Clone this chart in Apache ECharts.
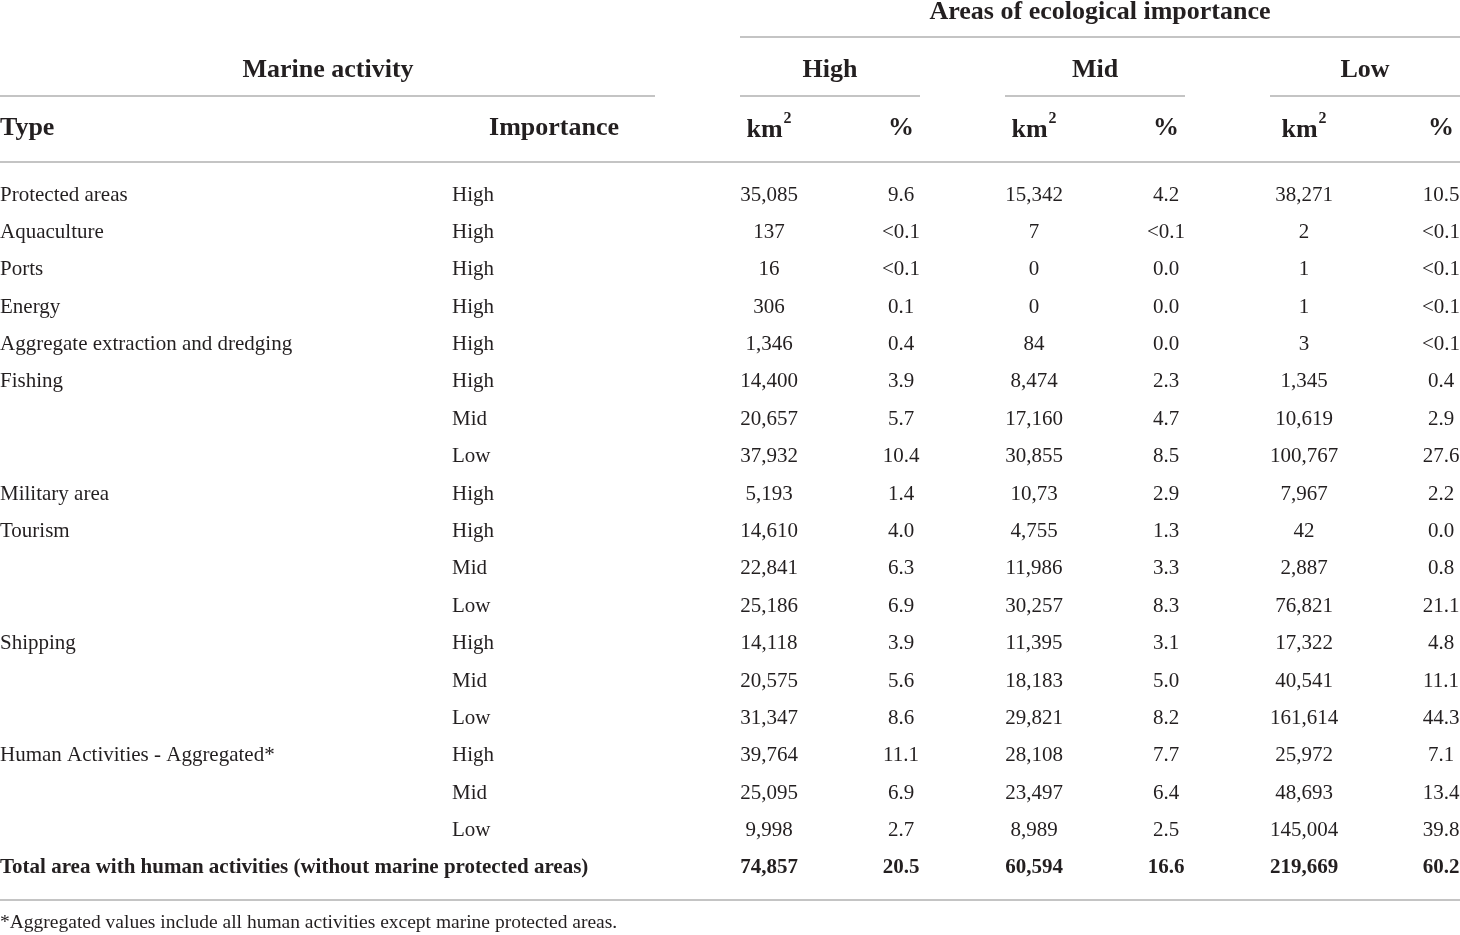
<!DOCTYPE html>
<html>
<head>
<meta charset="utf-8">
<script src="https://cdn.jsdelivr.net/npm/echarts@6/dist/echarts.min.js"></script>
<style>
  html, body { margin: 0; padding: 0; background: #fff; }
  #table-box { width: 1460px; height: 935px; }
</style>
</head>
<body>
<div id="table-box"></div>
<script>
// 表格数据
var types = ['Protected areas', 'Aquaculture', 'Ports', 'Energy', 'Aggregate extraction and dredging',
    'Fishing', '', '', 'Military area', 'Tourism', '', '', 'Shipping', '', '',
    'Human Activities - Aggregated*', '', '', 'Total area with human activities (without marine protected areas)'];
var importance = ['High', 'High', 'High', 'High', 'High', 'High', 'Mid', 'Low', 'High', 'High', 'Mid', 'Low',
    'High', 'Mid', 'Low', 'High', 'Mid', 'Low', ''];
var highKm = ['35,085', '137', '16', '306', '1,346', '14,400', '20,657', '37,932', '5,193', '14,610', '22,841',
    '25,186', '14,118', '20,575', '31,347', '39,764', '25,095', '9,998', '74,857'];
var highPct = ['9.6', '<0.1', '<0.1', '0.1', '0.4', '3.9', '5.7', '10.4', '1.4', '4.0', '6.3', '6.9', '3.9',
    '5.6', '8.6', '11.1', '6.9', '2.7', '20.5'];
var midKm = ['15,342', '7', '0', '0', '84', '8,474', '17,160', '30,855', '10,73', '4,755', '11,986', '30,257',
    '11,395', '18,183', '29,821', '28,108', '23,497', '8,989', '60,594'];
var midPct = ['4.2', '<0.1', '0.0', '0.0', '0.0', '2.3', '4.7', '8.5', '2.9', '1.3', '3.3', '8.3', '3.1', '5.0',
    '8.2', '7.7', '6.4', '2.5', '16.6'];
var lowKm = ['38,271', '2', '1', '1', '3', '1,345', '10,619', '100,767', '7,967', '42', '2,887', '76,821',
    '17,322', '40,541', '161,614', '25,972', '48,693', '145,004', '219,669'];
var lowPct = ['10.5', '<0.1', '<0.1', '<0.1', '<0.1', '0.4', '2.9', '27.6', '2.2', '0.0', '0.8', '21.1', '4.8',
    '11.1', '44.3', '7.1', '13.4', '39.8', '60.2'];

var footnote = '*Aggregated values include all human activities except marine protected areas.';

// 列位置（x 轴坐标）与对齐方式
var columns = [
    { data: types, x: 0, align: 'left' },
    { data: importance, x: 452, align: 'left' },
    { data: highKm, x: 769, align: 'center' },
    { data: highPct, x: 901, align: 'center' },
    { data: midKm, x: 1034, align: 'center' },
    { data: midPct, x: 1166, align: 'center' },
    { data: lowKm, x: 1304, align: 'center' },
    { data: lowPct, x: 1441, align: 'center' }
];

var FONT = '"Liberation Serif", "DejaVu Serif", serif';
var TXT = '#231f20';
var LINE = '#c4c4c4';
var totalRow = types.length - 1;

var rowIdx = types.map(function (t, i) { return String(i); });

var chart = echarts.init(document.querySelector('#table-box'));

// 每列一个散点系列，只显示标签
var series = columns.map(function (col) {
    return {
        type: 'scatter',
        symbolSize: 0,
        silent: true,
        itemStyle: { opacity: 1 },
        data: col.data.map(function (v, i) {
            return {
                value: [col.x, i],
                label: { fontWeight: i === totalRow ? 'bold' : 'normal' }
            };
        }),
        label: {
            show: true,
            position: 'inside',
            align: col.align,
            verticalAlign: 'middle',
            fontFamily: FONT,
            fontSize: 21,
            color: TXT,
            opacity: 1,
            offset: [0, 1],
            formatter: function (p) { return col.data[p.dataIndex]; }
        }
    };
});

function hText(x, y, text, align, size, weight) {
    return {
        type: 'text',
        x: x, y: y,
        style: {
            text: text,
            fontFamily: FONT,
            fontSize: size || 26,
            fontWeight: weight || 'bold',
            fill: TXT,
            align: align || 'center',
            verticalAlign: 'middle'
        }
    };
}

function kmText(x) {
    return {
        type: 'text',
        x: x, y: 127,
        style: {
            text: '{b|km}{s|2}',
            align: 'center',
            verticalAlign: 'middle',
            rich: {
                b: { fontFamily: FONT, fontSize: 26, fontWeight: 'bold', fill: TXT, lineHeight: 32, verticalAlign: 'bottom' },
                s: { fontFamily: FONT, fontSize: 16, fontWeight: 'bold', fill: TXT, lineHeight: 32, verticalAlign: 'top', padding: [0, 0, 0, 1] }
            }
        }
    };
}

function hLine(x1, x2, y) {
    return {
        type: 'line',
        shape: { x1: x1, y1: y, x2: x2, y2: y },
        style: { stroke: LINE, lineWidth: 2 }
    };
}

var option = {
    animation: false,
    backgroundColor: '#fff',
    grid: { left: 0, right: 0, top: 175.3, bottom: 49.3 },
    xAxis: { type: 'value', min: 0, max: 1460, show: false },
    yAxis: { type: 'category', data: rowIdx, inverse: true, show: false },
    graphic: [
        hText(1100, 12, 'Areas of ecological importance'),
        hLine(740, 1460, 37),
        hText(328, 70, 'Marine activity'),
        hText(830, 70, 'High'),
        hText(1095, 70, 'Mid'),
        hText(1365, 70, 'Low'),
        hLine(0, 655, 96),
        hLine(740, 920, 96),
        hLine(1005, 1185, 96),
        hLine(1270, 1460, 96),
        hText(0, 128, 'Type', 'left'),
        hText(554, 128, 'Importance'),
        kmText(769), hText(901, 128, '%'),
        kmText(1034), hText(1166, 128, '%'),
        kmText(1304), hText(1441, 128, '%'),
        hLine(0, 1460, 162),
        hLine(0, 1460, 900),
        hText(0, 923, footnote, 'left', 19.5, 'normal')
    ],
    series: series
};

chart.setOption(option);
</script>
</body>
</html>
